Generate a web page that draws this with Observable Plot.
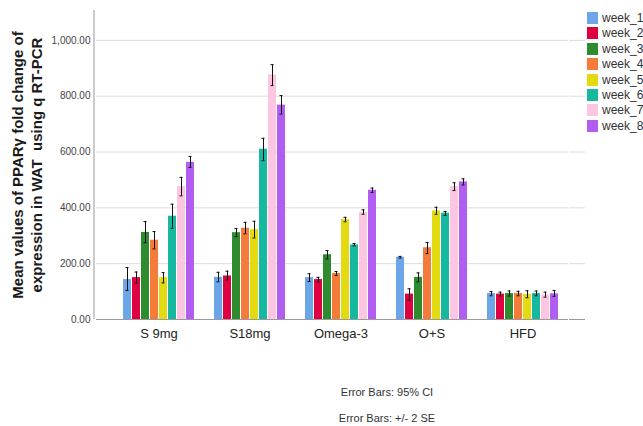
<!DOCTYPE html>
<html><head><meta charset="utf-8">
<script src="https://cdn.jsdelivr.net/npm/d3@7"></script>
<script src="https://cdn.jsdelivr.net/npm/@observablehq/plot@0.6"></script>
<style>
body{margin:0;background:#fff;font-family:"Liberation Sans",Arial,sans-serif;}
#wrap{position:relative;width:643px;height:426px;overflow:hidden;}
#wrap svg{position:absolute;left:0;top:0;}
.leg{position:absolute;left:587px;font-size:12px;color:#333;height:14px;line-height:14px;white-space:nowrap;}
.leg span{display:inline-block;width:11px;height:12px;vertical-align:top;margin-right:4px;margin-top:1px;}
.ytitle{position:absolute;width:340px;height:38px;line-height:19px;font-size:15px;font-weight:bold;color:#1a1a1a;text-align:center;transform:rotate(-90deg);transform-origin:50% 50%;white-space:nowrap;}
.foot{position:absolute;width:200px;text-align:center;font-size:11px;color:#333;}
</style></head><body><div id="wrap"></div>
<script>
const groups = ["S 9mg", "S18mg", "Omega-3", "O+S", "HFD"];
const weeks = ["week_1", "week_2", "week_3", "week_4", "week_5", "week_6", "week_7", "week_8"];
const weekColors = ["#6ca6e8", "#de0040", "#2e8b2e", "#f47b3a", "#e4da12", "#17b8a0", "#fcc5e1", "#b25df2"];
const yTicks = [0, 200, 400, 600, 800, 1000];

const s9mgMean = [143, 150, 312, 284, 150, 370, 476, 563];
const s9mgLow  = [104, 130, 275, 253, 131, 327, 443, 545];
const s9mgHigh = [186, 170, 351, 315, 168, 413, 509, 584];

const s18mgMean = [151, 156, 311, 327, 322, 610, 876, 768];
const s18mgLow  = [135, 142, 297, 307, 292, 569, 838, 736];
const s18mgHigh = [169, 173, 326, 348, 352, 649, 913, 802];

const omega3Mean = [150, 143, 232, 165, 358, 267, 384, 463];
const omega3Low  = [136, 134, 217, 158, 350, 264, 377, 455];
const omega3High = [164, 151, 247, 172, 366, 272, 393, 471];

const osMean = [223, 91, 151, 257, 389, 381, 476, 493];
const osLow  = [220, 69, 135, 236, 377, 373, 462, 482];
const osHigh = [226, 110, 167, 276, 402, 387, 490, 504];

const hfdMean = [93, 91, 93, 93, 90, 93, 88, 92];
const hfdLow  = [85, 84, 84, 85, 78, 85, 80, 83];
const hfdHigh = [100, 98, 102, 101, 103, 102, 98, 104];

const series = [
  [s9mgMean, s9mgLow, s9mgHigh],
  [s18mgMean, s18mgLow, s18mgHigh],
  [omega3Mean, omega3Low, omega3High],
  [osMean, osLow, osHigh],
  [hfdMean, hfdLow, hfdHigh]
];
const data = [];
groups.forEach((g, i) => weeks.forEach((w, j) => data.push({
  group: g, week: w, mean: series[i][0][j], low: series[i][1][j], high: series[i][2][j]
})));

const gridColor = "#dcdcdc";
const axisColor = "#9a9a9a";
const ML = 111, MR = 74, MT = 10, MB = 107;

const plot = Plot.plot({
  width: 643, height: 426,
  marginLeft: ML, marginRight: MR, marginTop: MT, marginBottom: MB,
  style: {fontFamily: "Liberation Sans, Arial, sans-serif", background: "transparent", overflow: "visible"},
  fx: {domain: groups, padding: 0, label: null},
  x: {domain: weeks, axis: null, paddingInner: 0.08, paddingOuter: 0.9},
  y: {domain: [0, 1107], axis: null},
  color: {domain: weeks, range: weekColors},
  marks: [
    Plot.ruleY(yTicks.slice(1), {stroke: gridColor}),
    Plot.axisY({ticks: yTicks, tickSize: 17, tickPadding: 6, tickFormat: d3.format(",.2f"), stroke: gridColor, fill: "#444", fontSize: 10, label: null}),
    Plot.axisY({anchor: "right", ticks: yTicks.slice(1), tickSize: 16, tickFormat: () => "", stroke: gridColor, label: null}),
    Plot.axisY({ticks: [0], tickSize: 17, tickFormat: () => "", stroke: axisColor, label: null}),
    Plot.axisY({anchor: "right", ticks: [0], tickSize: 16, tickFormat: () => "", stroke: axisColor, label: null}),
    Plot.barY(data, {fx: "group", x: "week", y: "mean", fill: "week"}),
    Plot.ruleY([0], {stroke: axisColor}),
    Plot.ruleX(data, {fx: "group", x: "week", y1: "low", y2: "high", stroke: "#111", strokeWidth: 1}),
    Plot.tickY(data, {fx: "group", x: "week", y: "low", stroke: "#111", insetLeft: 2.5, insetRight: 2.5}),
    Plot.tickY(data, {fx: "group", x: "week", y: "high", stroke: "#111", insetLeft: 2.5, insetRight: 2.5}),
    Plot.axisFx({anchor: "bottom", tickSize: 0, tickPadding: 9, fontSize: 13, fill: "#222", label: null})
  ]
});

const wrap = document.getElementById("wrap");
wrap.appendChild(plot);

// y-axis domain line
const ys = plot.scale("y");
d3.select(plot).append("line")
  .attr("x1", ML - 17).attr("x2", ML - 17)
  .attr("y1", ys.apply(1107)).attr("y2", ys.apply(0))
  .attr("stroke", axisColor);

// legend
weeks.forEach((w, i) => {
  const d = document.createElement("div");
  d.className = "leg";
  d.style.top = (11 + i * 15.4) + "px";
  d.innerHTML = `<span style="background:${weekColors[i]}"></span>${w}`;
  wrap.appendChild(d);
});

// y title
const yt = document.createElement("div");
yt.className = "ytitle";
yt.style.left = (26.5 - 170) + "px";
yt.style.top = (165 - 19) + "px";
yt.innerHTML = "Mean values of PPARγ fold change of<br>expression in WAT&nbsp; using q RT-PCR";
wrap.appendChild(yt);

// footer
[["Error Bars: 95% CI", 386], ["Error Bars: +/- 2 SE", 412]].forEach(([t, top]) => {
  const d = document.createElement("div");
  d.className = "foot";
  d.style.left = (387 - 100) + "px";
  d.style.top = top + "px";
  d.textContent = t;
  wrap.appendChild(d);
});
</script></body></html>
